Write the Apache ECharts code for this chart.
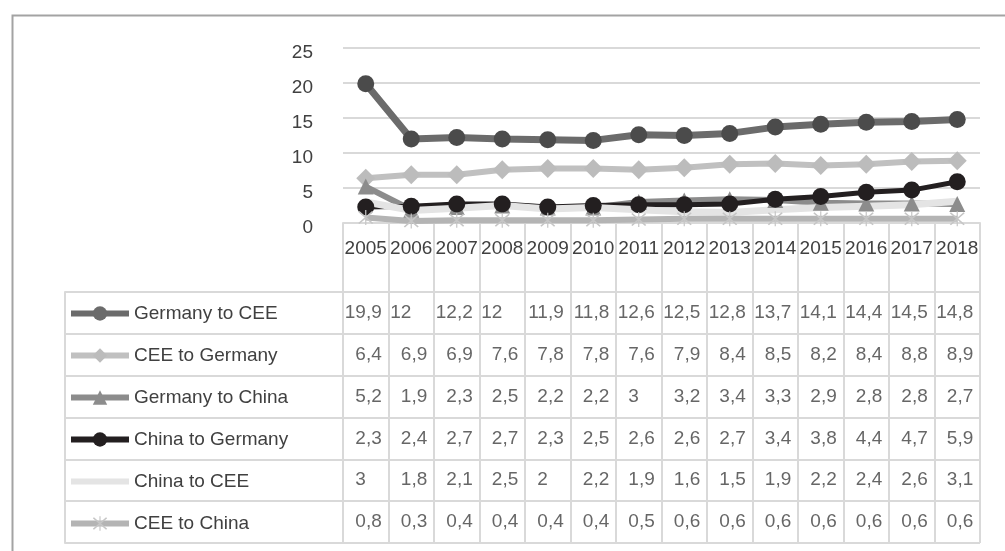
<!DOCTYPE html>
<html>
<head>
<meta charset="utf-8">
<script src="https://cdn.jsdelivr.net/npm/echarts@6/dist/echarts.min.js"></script>
<style>
  html, body { margin: 0; padding: 0; background: #fff; }
  #chart { width: 1005px; height: 551px; }
</style>
</head>
<body>
<div id="chart"></div>
<script>
// Trade flows 2005–2018 with the data table underneath
const years = ['2005','2006','2007','2008','2009','2010','2011','2012','2013','2014','2015','2016','2017','2018'];

const germanyToCEE   = [19.9, 12, 12.2, 12, 11.9, 11.8, 12.6, 12.5, 12.8, 13.7, 14.1, 14.4, 14.5, 14.8];
const ceeToGermany   = [6.4, 6.9, 6.9, 7.6, 7.8, 7.8, 7.6, 7.9, 8.4, 8.5, 8.2, 8.4, 8.8, 8.9];
const germanyToChina = [5.2, 1.9, 2.3, 2.5, 2.2, 2.2, 3, 3.2, 3.4, 3.3, 2.9, 2.8, 2.8, 2.7];
const chinaToGermany = [2.3, 2.4, 2.7, 2.7, 2.3, 2.5, 2.6, 2.6, 2.7, 3.4, 3.8, 4.4, 4.7, 5.9];
const chinaToCEE     = [3, 1.8, 2.1, 2.5, 2, 2.2, 1.9, 1.6, 1.5, 1.9, 2.2, 2.4, 2.6, 3.1];
const ceeToChina     = [0.8, 0.3, 0.4, 0.4, 0.4, 0.4, 0.5, 0.6, 0.6, 0.6, 0.6, 0.6, 0.6, 0.6];

const seriesNames = ['Germany to CEE', 'CEE to Germany', 'Germany to China', 'China to Germany', 'China to CEE', 'CEE to China'];
const seriesValues = [germanyToCEE, ceeToGermany, germanyToChina, chinaToGermany, chinaToCEE, ceeToChina];

const yTicks = { min: 0, max: 25, interval: 5 };

const TEXT = '#404040';
const RULE = '#d9d9d9';
const FONT = 'Liberation Sans, Arial, sans-serif';

// asterisk marker: vertical bar plus two diagonals
const asterisk = 'path://M9.3 0L10.7 0L10.7 20L9.3 20Z' +
  'M1.3 2.7L2.7 1.3L18.7 17.3L17.3 18.7Z' +
  'M17.3 1.3L18.7 2.7L2.7 18.7L1.3 17.3Z';

const looks = [
  { line: '#6b6b6b', mark: '#4b4b4b', width: 7, symbol: 'circle',   size: 17 },
  { line: '#c0c0c0', mark: '#bcbcbc', width: 6, symbol: 'diamond',  size: 19 },
  { line: '#8c8c8c', mark: '#8c8c8c', width: 6, symbol: 'triangle', size: 16 },
  { line: '#231f20', mark: '#231f20', width: 5, symbol: 'circle',   size: 17 },
  { line: '#e4e4e4', mark: '#e4e4e4', width: 7, symbol: 'none',     size: 0 },
  { line: '#b4b4b4', mark: '#c6c6c6', width: 6, symbol: asterisk,   size: 15 }
];

const lineSeries = seriesNames.map((name, i) => ({
  name: name,
  type: 'line',
  xAxisIndex: 0,
  yAxisIndex: 0,
  data: seriesValues[i],
  symbol: looks[i].symbol,
  symbolSize: looks[i].size,
  showSymbol: looks[i].symbol !== 'none',
  lineStyle: { color: looks[i].line, width: looks[i].width },
  itemStyle: { color: looks[i].mark, borderWidth: 0 },
  emphasis: { disabled: true }
}));

// legend keys: line plus marker; the plain line series gets no marker
const legendData = seriesNames.map((name, i) => ({
  name: name,
  lineStyle: { width: 6, color: looks[i].line },
  itemStyle: {
    color: looks[i].symbol === 'none' ? 'rgba(0,0,0,0)' : (i === 0 ? looks[i].line : looks[i].mark),
    borderWidth: 0
  }
}));

// table cells: one invisible point per value, labelled with the number
const tableCells = [];
seriesValues.forEach((vals, r) => {
  vals.forEach((v, c) => tableCells.push([c, r, v]));
});

function cellText(v) {
  const s = String(v).replace('.', ',');
  return Number.isInteger(v) ? '{a|' + s + '}{h|,0}' : '{a|' + s + '}';
}

const tableSeries = {
  name: 'table',
  type: 'scatter',
  xAxisIndex: 1,
  yAxisIndex: 1,
  silent: true,
  symbolSize: 1,
  itemStyle: { color: 'rgba(0,0,0,0)' },
  data: tableCells,
  label: {
    show: true,
    position: 'inside',
    align: 'right',
    verticalAlign: 'middle',
    offset: [16, 0],
    formatter: p => cellText(p.value[2]),
    rich: {
      a: { fontSize: 19, color: TEXT, fontFamily: FONT },
      h: { fontSize: 19, color: 'rgba(0,0,0,0)', fontFamily: FONT }
    }
  }
};

const chart = echarts.init(document.getElementById('chart'), null, { renderer: 'canvas' });

chart.setOption({
  animation: false,
  backgroundColor: '#ffffff',
  textStyle: { fontFamily: FONT },
  graphic: [{
    type: 'rect',
    left: 10, top: 13,
    shape: { width: 1100, height: 600 },
    style: { fill: 'none', stroke: '#a3a3a3', lineWidth: 2 },
    silent: true
  }],
  legend: {
    orient: 'vertical',
    left: 68,
    top: 304,
    height: 247,
    padding: 0,
    itemWidth: 58,
    itemHeight: 18,
    itemGap: 23,
    data: legendData,
    textStyle: { fontSize: 19, color: TEXT, fontFamily: FONT },
    selectedMode: false
  },
  grid: [
    { left: 343, right: 25, top: 48, bottom: 328 },
    { left: 343, right: 25, top: 292, bottom: 8 }
  ],
  xAxis: [
    {
      type: 'category',
      gridIndex: 0,
      data: years,
      boundaryGap: true,
      axisLine: { show: true, lineStyle: { color: RULE, width: 2 } },
      axisTick: { show: true, interval: 0, length: 320, lineStyle: { color: RULE, width: 2 } },
      axisLabel: { fontSize: 19, color: TEXT, margin: 16, interval: 0 }
    },
    {
      type: 'category',
      gridIndex: 1,
      data: years,
      boundaryGap: true,
      axisLine: { show: false },
      axisTick: { show: false },
      axisLabel: { show: false }
    }
  ],
  yAxis: [
    {
      type: 'value',
      gridIndex: 0,
      min: yTicks.min,
      max: yTicks.max,
      interval: yTicks.interval,
      axisLine: { show: false },
      axisTick: { show: false },
      axisLabel: { fontSize: 19, color: TEXT, margin: 30, verticalAlign: 'top', lineHeight: 10 },
      splitLine: { lineStyle: { color: RULE, width: 2 } }
    },
    {
      type: 'category',
      gridIndex: 1,
      data: seriesNames.map((n, i) => i),
      inverse: true,
      boundaryGap: true,
      axisLine: { show: false },
      axisLabel: { show: false },
      axisTick: { show: true, interval: 0, length: 278, lineStyle: { color: RULE, width: 2 } },
      splitLine: { show: true, interval: 0, lineStyle: { color: RULE, width: 2 } }
    },
    {
      type: 'category',
      gridIndex: 1,
      position: 'left',
      offset: 278,
      data: seriesNames.map((n, i) => i),
      axisLine: { show: true, lineStyle: { color: RULE, width: 2 } },
      axisTick: { show: false },
      axisLabel: { show: false },
      splitLine: { show: false }
    }
  ],
  series: lineSeries.concat([tableSeries])
});
</script>
</body>
</html>
